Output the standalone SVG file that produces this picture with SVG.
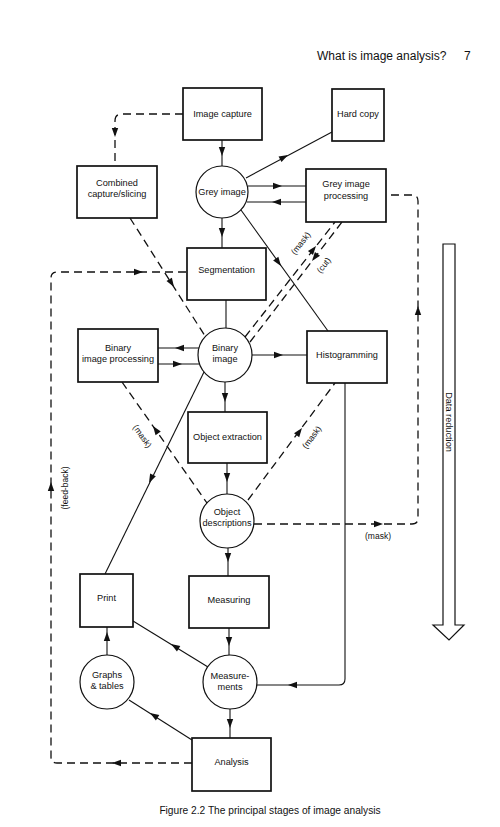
<svg xmlns="http://www.w3.org/2000/svg" xmlns:xlink="http://www.w3.org/1999/xlink" width="500" height="827" viewBox="0 0 500 827">
<style>
.box{fill:#fff;stroke:#111;stroke-width:1.7}
.circ{fill:#fff;stroke:#111;stroke-width:1.2}
.ln{fill:none;stroke:#111;stroke-width:1.1}
.dash{fill:none;stroke:#111;stroke-width:1.3;stroke-dasharray:8 5}
.t{font-family:"Liberation Sans",Arial,sans-serif;font-size:9.2px;fill:#111;text-anchor:middle}
.lab{font-family:"Liberation Sans",Arial,sans-serif;font-size:8.5px;fill:#111;text-anchor:middle}
.hd{font-family:"Liberation Sans",Arial,sans-serif;font-size:12px;fill:#111}
.cap{font-family:"Liberation Sans",Arial,sans-serif;font-size:10.2px;fill:#111;text-anchor:middle}
.ah{fill:#111}
</style>
<defs>
<path id="ah" class="ah" d="M0,0 L-9,-3.2 L-9,3.2 Z"/>
</defs>
<rect width="500" height="827" fill="#fff"/>
<text class="hd" x="317" y="60">What is image analysis?</text>
<text class="hd" x="464" y="60">7</text>

<g id="connectors">
  <line class="ln" x1="222" y1="140" x2="222" y2="166"/>
  <line class="ln" x1="246" y1="178" x2="332" y2="132"/>
  <line class="ln" x1="248" y1="186" x2="306" y2="186"/>
  <line class="ln" x1="306" y1="202" x2="247" y2="202"/>
  <line class="ln" x1="222" y1="218" x2="222" y2="248"/>
  <line class="ln" x1="241" y1="210" x2="328" y2="331"/>
  <line class="ln" x1="226" y1="300" x2="226" y2="328"/>
  <path class="dash" d="M183,114 H122 Q115,114 115,121 V166"/>
  <line class="dash" x1="130" y1="218" x2="205" y2="336"/>
  <path class="dash" d="M254,524 H412 Q418,524 418,518 V201 Q418,195 412,195 H386"/>
  <line class="dash" x1="245" y1="337" x2="335" y2="222"/>
  <line class="dash" x1="250" y1="342" x2="342" y2="222"/>
  <line class="ln" x1="199" y1="348" x2="158" y2="348"/>
  <line class="ln" x1="158" y1="364" x2="199" y2="364"/>
  <line class="ln" x1="252" y1="355" x2="307" y2="355"/>
  <line class="ln" x1="225" y1="382" x2="225" y2="412"/>
  <line class="dash" x1="122" y1="382" x2="207" y2="503"/>
  <line class="dash" x1="248" y1="500" x2="335" y2="383"/>
  <line class="ln" x1="227" y1="463" x2="227" y2="494"/>
  <line class="ln" x1="204" y1="372" x2="105" y2="574"/>
  <line class="ln" x1="228" y1="548" x2="228" y2="576"/>
  <line class="ln" x1="229" y1="628" x2="229" y2="655"/>
  <line class="ln" x1="208" y1="667" x2="133" y2="621"/>
  <line class="ln" x1="107" y1="655" x2="107" y2="627"/>
  <line class="ln" x1="230" y1="709" x2="230" y2="738"/>
  <line class="ln" x1="192" y1="740" x2="129" y2="700"/>
  <path class="ln" d="M345,383 V679 Q345,685 339,685 H257"/>
  <path class="dash" d="M192,763 H57 Q51,763 51,757 V278 Q51,272 57,272 H187"/>

  <use href="#ah" transform="translate(222,156) rotate(90)"/>
  <use href="#ah" transform="translate(288,155) rotate(-27.9)"/>
  <use href="#ah" transform="translate(282,186)"/>
  <use href="#ah" transform="translate(272,202) rotate(180)"/>
  <use href="#ah" transform="translate(222,237) rotate(90)"/>
  <use href="#ah" transform="translate(281,266) rotate(54.3)"/>
  <use href="#ah" transform="translate(115,137) rotate(90)"/>
  <use href="#ah" transform="translate(174,287) rotate(57.6)"/>
  <use href="#ah" transform="translate(383,524)"/>
  <use href="#ah" transform="translate(418,306) rotate(-90)"/>
  <use href="#ah" transform="translate(316,246) rotate(-52)"/>
  <use href="#ah" transform="translate(312,261) rotate(127.5)"/>
  <use href="#ah" transform="translate(175,348) rotate(180)"/>
  <use href="#ah" transform="translate(182,364)"/>
  <use href="#ah" transform="translate(283,355)"/>
  <use href="#ah" transform="translate(225,402) rotate(90)"/>
  <use href="#ah" transform="translate(153,426) rotate(-125.1)"/>
  <use href="#ah" transform="translate(302,428) rotate(-53.4)"/>
  <use href="#ah" transform="translate(227,482) rotate(90)"/>
  <use href="#ah" transform="translate(149,483) rotate(116.2)"/>
  <use href="#ah" transform="translate(228,562) rotate(90)"/>
  <use href="#ah" transform="translate(229,646) rotate(90)"/>
  <use href="#ah" transform="translate(171,644) rotate(-148.1)"/>
  <use href="#ah" transform="translate(107,632) rotate(-90)"/>
  <use href="#ah" transform="translate(230,728) rotate(90)"/>
  <use href="#ah" transform="translate(150,713) rotate(-147.6)"/>
  <use href="#ah" transform="translate(288,685) rotate(180)"/>
  <use href="#ah" transform="translate(112,763) rotate(180)"/>
  <use href="#ah" transform="translate(51,482) rotate(-90)"/>
  <use href="#ah" transform="translate(143,272)"/>

  <text class="lab" transform="translate(303,245) rotate(-52)">(mask)</text>
  <text class="lab" transform="translate(326,267) rotate(-52)">(cut)</text>
  <text class="lab" transform="translate(140,438) rotate(55)">(mask)</text>
  <text class="lab" transform="translate(314,439) rotate(-53)">(mask)</text>
  <text class="lab" x="378" y="539">(mask)</text>
  <text class="lab" transform="translate(68,488) rotate(-90)">(feed-back)</text>
</g>

<g id="image-capture"><rect class="box" x="183" y="88" width="79" height="52"/><text class="t" x="222.5" y="117">Image capture</text></g>
<g id="hard-copy"><rect class="box" x="332" y="89" width="52" height="52"/><text class="t" x="358" y="117">Hard copy</text></g>
<g id="combined"><rect class="box" x="77" y="166" width="80" height="52"/><text class="t" x="117" y="186">Combined</text><text class="t" x="117" y="197">capture/slicing</text></g>
<g id="grey-image"><circle class="circ" cx="222" cy="192" r="26"/><text class="t" x="222" y="195">Grey image</text></g>
<g id="grey-processing"><rect class="box" x="306" y="169" width="80" height="53"/><text class="t" x="346" y="187">Grey image</text><text class="t" x="346" y="199">processing</text></g>
<g id="segmentation"><rect class="box" x="187" y="248" width="79" height="52"/><text class="t" x="226.5" y="273">Segmentation</text></g>
<g id="binary-processing"><rect class="box" x="78" y="329" width="80" height="53"/><text class="t" x="118" y="351">Binary</text><text class="t" x="118" y="362">image processing</text></g>
<g id="binary-image"><circle class="circ" cx="225" cy="355" r="27"/><text class="t" x="225" y="351">Binary</text><text class="t" x="225" y="362">image</text></g>
<g id="histogramming"><rect class="box" x="307" y="331" width="80" height="52"/><text class="t" x="347" y="358">Histogramming</text></g>
<g id="object-extraction"><rect class="box" x="188" y="412" width="79" height="51"/><text class="t" x="227.5" y="440">Object extraction</text></g>
<g id="object-descriptions"><circle class="circ" cx="227" cy="521" r="27"/><text class="t" x="227" y="515">Object</text><text class="t" x="227" y="526">descriptions</text></g>
<g id="print"><rect class="box" x="80" y="574" width="53" height="53"/><text class="t" x="106.5" y="601">Print</text></g>
<g id="measuring"><rect class="box" x="189" y="576" width="80" height="52"/><text class="t" x="229" y="603">Measuring</text></g>
<g id="graphs"><circle class="circ" cx="107" cy="682" r="27"/><text class="t" x="107" y="678">Graphs</text><text class="t" x="107" y="689">&amp; tables</text></g>
<g id="measurements"><circle class="circ" cx="230" cy="682" r="27"/><text class="t" x="230" y="679">Measure-</text><text class="t" x="230" y="690">ments</text></g>
<g id="analysis"><rect class="box" x="192" y="738" width="79" height="53"/><text class="t" x="231.5" y="765">Analysis</text></g>

<g id="data-reduction">
  <path fill="#fff" stroke="#111" stroke-width="1.2" d="M443,244 H455 V625 H464 L449,640 L433,625 H443 Z"/>
  <text class="t" transform="translate(446,422) rotate(90)">Data reduction</text>
</g>

<text class="cap" x="270" y="814">Figure 2.2 The principal stages of image analysis</text>
</svg>
